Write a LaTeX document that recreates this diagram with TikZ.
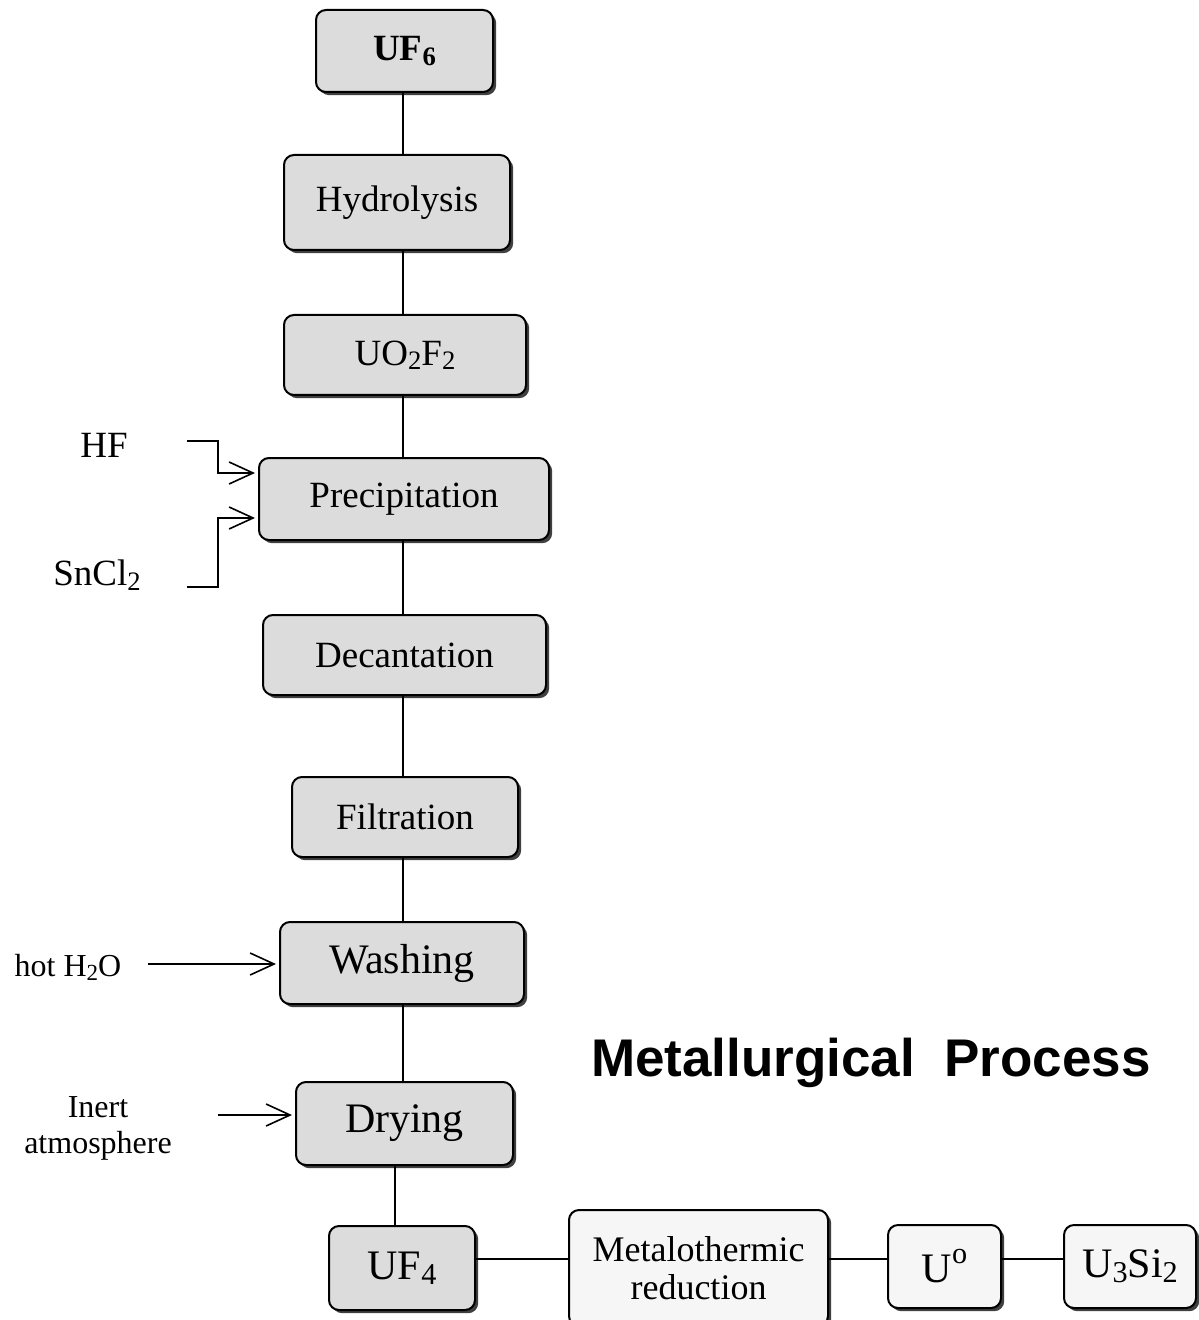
\documentclass[tikz,border=0pt]{standalone}
\usepackage{fontspec}
\setmainfont{Liberation Serif}
\newfontfamily\titlefont{Liberation Sans}
\usepackage{graphicx}
\usetikzlibrary{arrows.meta,shadows}

\definecolor{boxgray}{HTML}{DCDCDC}
\definecolor{boxlite}{HTML}{F6F6F6}

% small digits and marks in the formulas
\newcommand{\dn}[1]{\raisebox{-0.12em}{\scalebox{0.72}{#1}}}
\newcommand{\up}[1]{\raisebox{0.45em}{\scalebox{0.72}{#1}}}

\begin{document}
\begin{tikzpicture}[x=0.5pt,y=-0.5pt,
	box/.style={draw=black, line width=1pt, rounded corners=5pt, fill=boxgray,
		drop shadow={shadow xshift=1.6pt, shadow yshift=-1.6pt, fill=black!75, opacity=1},
		inner sep=0pt, align=center, font=\fontsize{18.5}{21}\selectfont},
	bigbox/.style={box, font=\fontsize{21}{24}\selectfont},
	litebox/.style={box, fill=boxlite, font=\fontsize{18}{19}\selectfont},
	feedlabel/.style={inner sep=0pt, align=center, font=\fontsize{16}{18}\selectfont},
	feed/.style={line width=0.8pt, -{Straight Barb[length=12pt,width=11pt,line width=0.8pt]}, shorten >=1.5pt},
	link/.style={line width=0.8pt}]
	\useasboundingbox (0,0) rectangle (1198,1320);
	% main line
	\node [box, minimum width=88.5pt, minimum height=41pt] (uf6) at (404.5,51) {\textbf{UF\dn{6}}};
	\node [box, minimum width=113pt, minimum height=47.5pt] (hydro) at (397,202.5) {Hydrolysis};
	\node [box, minimum width=121pt, minimum height=40pt] (uo2f2) at (405,355) {UO\dn{2}F\dn{2}};
	\node [box, minimum width=145pt, minimum height=41pt] (precip) at (404,499) {Precipitation};
	\node [box, minimum width=141.5pt, minimum height=40pt] (decant) at (404.5,655) {Decantation};
	\node [box, minimum width=113pt, minimum height=40pt] (filtr) at (405,817) {Filtration};
	\node [bigbox, minimum width=122pt, minimum height=41pt] (wash) at (402,963) {Washing};
	\node [bigbox, minimum width=108.5pt, minimum height=41.5pt] (dry) at (404.5,1123.5) {Drying};
	% bottom row
	\node [box, font=\fontsize{21}{24}\selectfont, minimum width=73pt, minimum height=42pt] (uf4) at (402,1268) {UF\dn{4}};
	\node [litebox, minimum width=129.5pt, minimum height=58pt] (metal) at (698.5,1268) {Metalothermic\\reduction};
	\node [litebox, font=\fontsize{21}{24}\selectfont, minimum width=56.5pt, minimum height=41.5pt] (u0) at (944.5,1266.5) {U\up{o}};
	\node [litebox, font=\fontsize{21}{24}\selectfont, minimum width=66pt, minimum height=41.5pt] (u3si2) at (1130,1266.5) {U\dn{3}Si\dn{2}};
	% feeds
	\node [feedlabel, font=\fontsize{18.5}{21}\selectfont] (hf) at (104,445) {HF};
	\node [feedlabel, font=\fontsize{18.5}{21}\selectfont] (sncl) at (97,575) {SnCl\dn{2}};
	\node [feedlabel] (h2o) at (68,967) {hot H\dn{2}O};
	\node [feedlabel] (inert) at (98,1128) {Inert\\atmosphere};
	\node [inner sep=0pt, font=\titlefont\bfseries\fontsize{26.5}{30}\selectfont] (title) at (871,1063) {Metallurgical\ \ Process};
	\coordinate (hfin) at (187,441);
	\coordinate (snclin) at (187,587);
	\coordinate (h2oin) at (148,964);
	\coordinate (inertin) at (218,1115);
	\coordinate (spine) at (403,0);
	\coordinate (spinelow) at (395,0);
	\coordinate (row) at (0,1259);
	% connectors
	\draw [link] (spine |- uf6.south) -- (spine |- hydro.north);
	\draw [link] (spine |- hydro.south) -- (spine |- uo2f2.north);
	\draw [link] (spine |- uo2f2.south) -- (spine |- precip.north);
	\draw [link] (spine |- precip.south) -- (spine |- decant.north);
	\draw [link] (spine |- decant.south) -- (spine |- filtr.north);
	\draw [link] (spine |- filtr.south) -- (spine |- wash.north);
	\draw [link] (spine |- wash.south) -- (spine |- dry.north);
	\draw [link] (spinelow |- dry.south) -- (spinelow |- uf4.north);
	\draw [link] (uf4.east |- row) -- (metal.west |- row);
	\draw [link] (metal.east |- row) -- (u0.west |- row);
	\draw [link] (u0.east |- row) -- (u3si2.west |- row);
	\draw [feed] (hfin) -- ++(31,0) |- ([yshift=13pt]precip.west);
	\draw [feed] (snclin) -- ++(31,0) |- ([yshift=-9.5pt]precip.west);
	\draw [feed] (h2oin) -- (wash.west |- h2oin);
	\draw [feed] (inertin) -- (dry.west |- inertin);
\end{tikzpicture}
\end{document}
